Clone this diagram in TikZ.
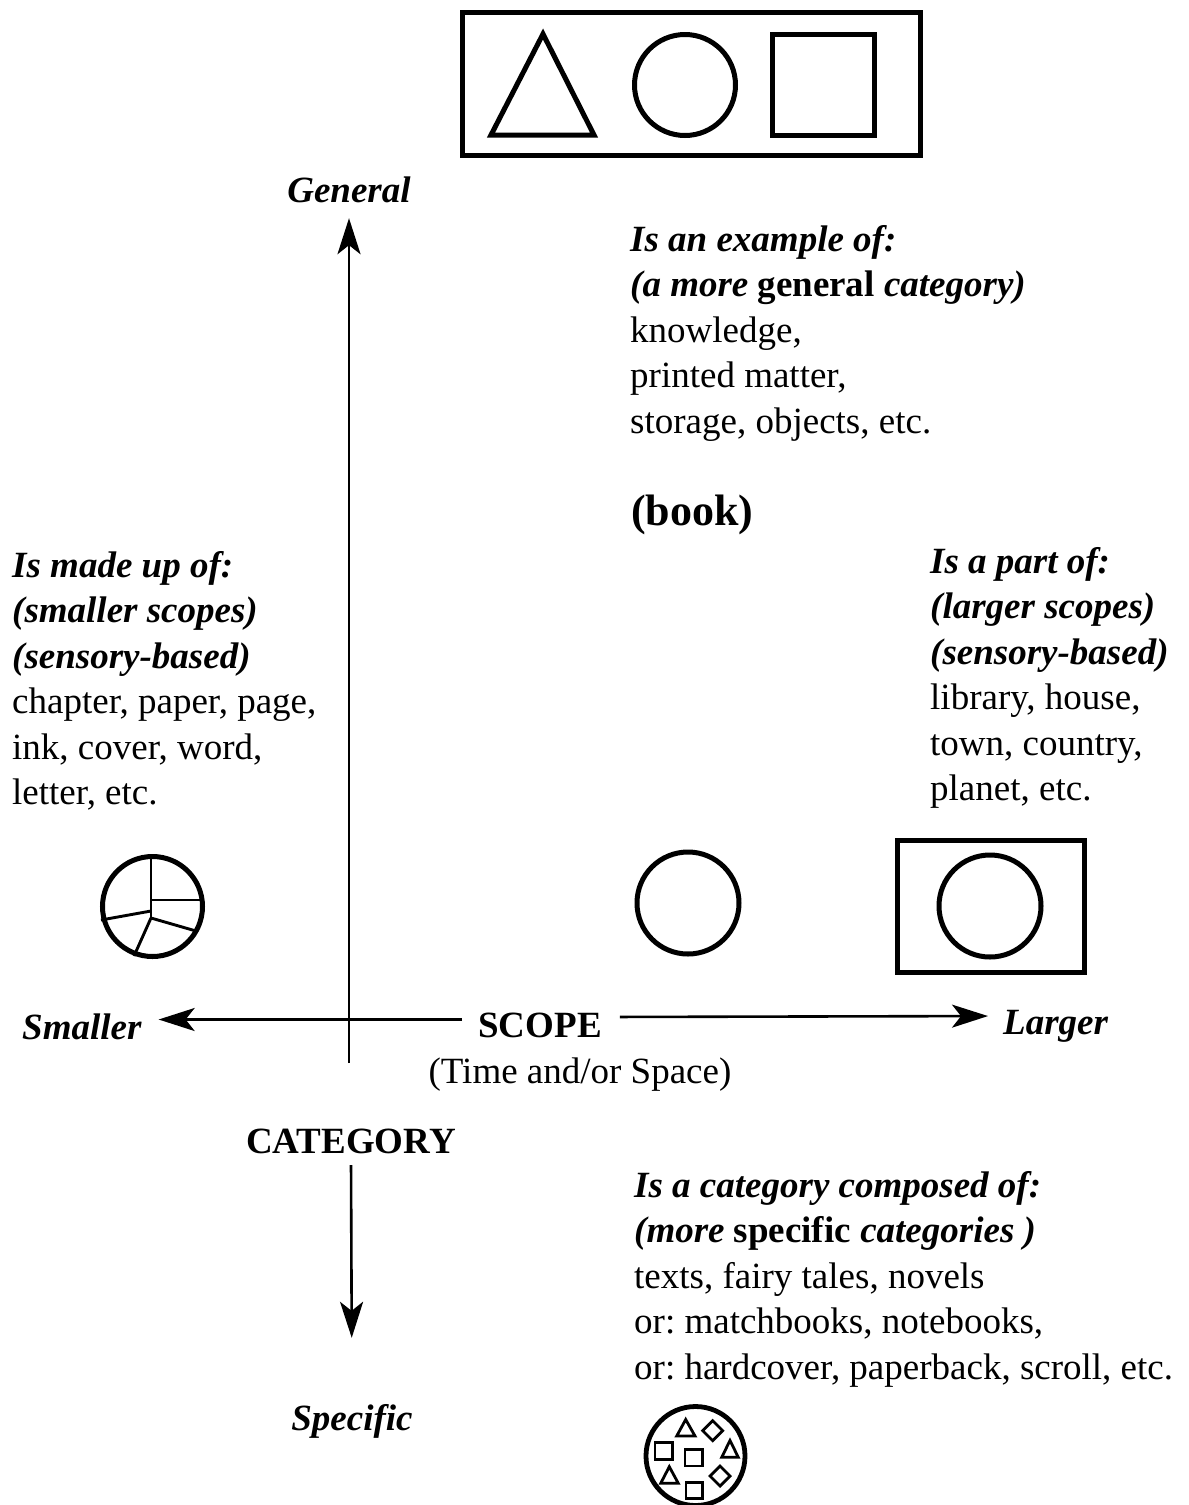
\documentclass[tikz,border=0pt]{standalone}
\usepackage{fontspec}
\setmainfont{Liberation Serif}
\usetikzlibrary{arrows.meta}
\newcommand\BIt[1]{{\bfseries\itshape #1}}
\frenchspacing
\begin{document}
\begin{tikzpicture}[x=1pt,y=-1pt,
  body/.style={font={\fontsize{37}{45.5}\selectfont}, anchor=north west, inner sep=0pt, align=left},
  axlabel/.style={inner sep=0pt, text height=26pt, text depth=8pt, anchor=base},
  bilabel/.style={axlabel, font={\fontsize{37}{44}\selectfont\bfseries\itshape}},
  blabel/.style={axlabel, font={\fontsize{37}{44}\selectfont\bfseries}},
  axis/.style={line width=2.6pt, -{Stealth[length=36pt,width=23pt,inset=9pt]}},
  heavy/.style={line width=5pt, line join=miter},
  thin/.style={line width=2.9pt},
  small/.style={line width=2.8pt, line join=miter}
]
\useasboundingbox[fill=white] (0,0) rectangle (1189,1505);

% ---- top box with triangle, circle, square
\draw[heavy] (462.5,12.5) rectangle (920.5,155.5);
\draw[heavy] (491,135) -- (594,135) -- (543,34) -- cycle;
\draw[heavy] (685,85) circle (50.5);
\draw[heavy] (772.5,34.5) rectangle (874.5,135.5);

% ---- axis labels
\node[bilabel] (general) at (349,202) {General};
\node[bilabel, anchor=base west] (smaller) at (22,1039) {Smaller};
\node[blabel] (scope) at (540,1037) {SCOPE};
\node[bilabel, anchor=base west] (larger) at (1003,1034) {Larger};
\node[axlabel, font={\fontsize{37}{44}\selectfont}] (timespace) at (580,1083) {(Time and/or Space)};
\node[blabel] (category) at (351,1153) {CATEGORY};
\node[bilabel] (specific) at (352,1430) {Specific};

% ---- axes
\coordinate (vbottom) at (349,1063);
\draw[axis, shorten >=8pt] (vbottom) -- (general.south);
\draw[axis, shorten <=16pt, shorten >=17pt] ([yshift=8.5pt]scope.west) -- ([yshift=10.5pt]smaller.east);
\draw[axis, shorten <=18pt, shorten >=15pt] ([yshift=11pt]scope.east) -- ([yshift=9pt]larger.west);
\draw[axis, shorten <=4pt, shorten >=66pt] (category.south) -- (specific.north);

% ---- text blocks
\node[body] (example) at (630,219.2) {\strut\BIt{Is an example of:}\\
  \BIt{(a more} \textbf{general} \BIt{category)}\\
  knowledge,\\
  printed matter,\\
  storage, objects, etc.};
\node[anchor=base west, inner sep=0pt, font={\fontsize{44}{50}\selectfont\bfseries}] (book) at (631,525) {(book)};

\node[body] (madeup) at (12,545.2) {\strut\BIt{Is made up of:}\\
  \BIt{(smaller scopes)}\\
  \BIt{(sensory-based)}\\
  chapter, paper, page,\\
  ink, cover, word,\\
  letter, etc.};

\node[body] (partof) at (930,541.2) {\strut\BIt{Is a part of:}\\
  \BIt{(larger scopes)}\\
  \BIt{(sensory-based)}\\
  library, house,\\
  town, country,\\
  planet, etc.};

\node[body] (composed) at (634,1165.2) {\strut\BIt{Is a category composed of:}\\
  \BIt{(more} \textbf{specific} \BIt{categories )}\\
  texts, fairy tales, novels\\
  or: matchbooks, notebooks,\\
  or: hardcover, paperback, scroll, etc.};

% ---- pie circle (smaller scopes)
\draw[line width=5pt] (152.5,906.5) circle (50);
\draw[thin] (151,855) -- (151,918);
\draw[thin] (151,900) -- (204,900);
\draw[thin] (151,911) -- (101,920);
\draw[thin] (151,918) -- (134,956);
\draw[thin] (151,918) -- (196,931);

% ---- middle circle (book)
\draw[heavy] (688,903) circle (51);

% ---- circle in box (larger scope)
\draw[heavy] (897.5,840.5) rectangle (1084.5,972.5);
\draw[heavy] (990,906) circle (51);

% ---- circle of specific categories
\draw[line width=4.8pt] (695.5,1456) circle (49.5);
\draw[small] (676.7,1436) -- (695,1436) -- (685.7,1419.5) -- cycle;
\draw[small] (712.7,1420.7) -- (722.7,1430.7) -- (712.7,1440.7) -- (702.7,1430.7) -- cycle;
\draw[small] (721.7,1457.3) -- (738.3,1457.3) -- (730,1440.5) -- cycle;
\draw[small] (655,1442.7) rectangle (672.7,1459.3);
\draw[small] (685,1449.3) rectangle (702.7,1466);
\draw[small] (660.7,1483.3) -- (678.3,1483.3) -- (669.3,1466.7) -- cycle;
\draw[small] (720,1466) -- (730,1476) -- (720,1486) -- (710,1476) -- cycle;
\draw[small] (686,1482.7) rectangle (702.7,1498.7);
\end{tikzpicture}
\end{document}
